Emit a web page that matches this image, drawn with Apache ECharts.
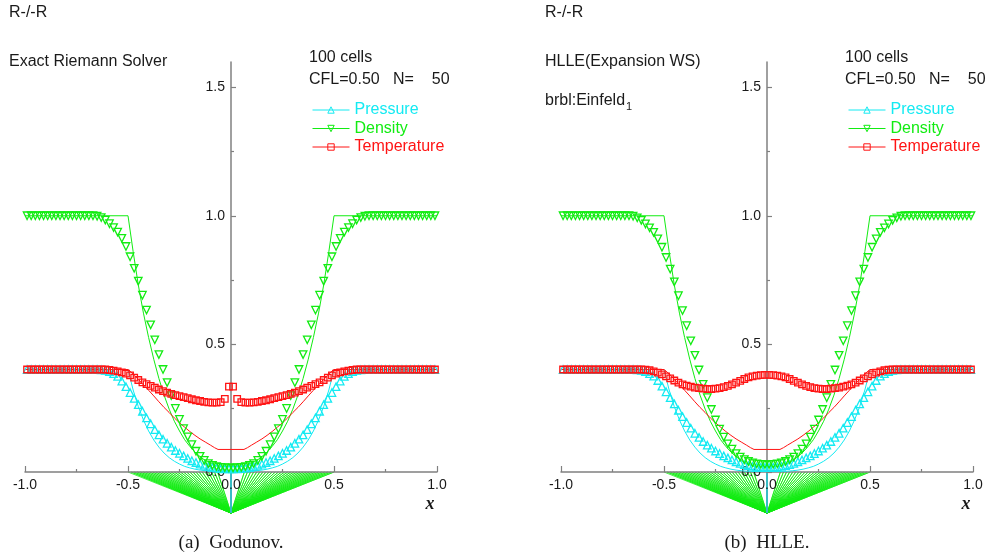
<!DOCTYPE html>
<html>
<head>
<meta charset="utf-8">
<title>R-/-R</title>
<script src="https://cdn.jsdelivr.net/npm/echarts@6/dist/echarts.min.js"></script>
<style>
html, body { margin: 0; padding: 0; background: #fff; }
#main { width: 989px; height: 556px; }
</style>
</head>
<body>
<div id="main"></div>
<script>
// cell centres, 100 cells on [-1, 1]
var cellX = [
  -0.99,-0.97,-0.95,-0.93,-0.91,-0.89,-0.87,-0.85,-0.83,-0.81,
  -0.79,-0.77,-0.75,-0.73,-0.71,-0.69,-0.67,-0.65,-0.63,-0.61,
  -0.59,-0.57,-0.55,-0.53,-0.51,-0.49,-0.47,-0.45,-0.43,-0.41,
  -0.39,-0.37,-0.35,-0.33,-0.31,-0.29,-0.27,-0.25,-0.23,-0.21,
  -0.19,-0.17,-0.15,-0.13,-0.11,-0.09,-0.07,-0.05,-0.03,-0.01,
  0.01,0.03,0.05,0.07,0.09,0.11,0.13,0.15,0.17,0.19,
  0.21,0.23,0.25,0.27,0.29,0.31,0.33,0.35,0.37,0.39,
  0.41,0.43,0.45,0.47,0.49,0.51,0.53,0.55,0.57,0.59,
  0.61,0.63,0.65,0.67,0.69,0.71,0.73,0.75,0.77,0.79,
  0.81,0.83,0.85,0.87,0.89,0.91,0.93,0.95,0.97,0.99
];

// (a) Godunov
var godDensity = [
  1,1,1,1,1,1,1,1,1,1,
  1,1,1,1,1,1,1,0.998,0.993,0.983,
  0.969,0.954,0.936,0.912,0.88,0.84,0.795,0.745,0.69,0.632,
  0.574,0.516,0.458,0.40,0.349,0.298,0.248,0.205,0.169,0.137,
  0.107,0.081,0.061,0.045,0.033,0.026,0.021,0.018,0.017,0.016,
  0.016,0.017,0.018,0.021,0.026,0.033,0.045,0.061,0.081,0.107,
  0.137,0.169,0.205,0.248,0.298,0.349,0.40,0.458,0.516,0.574,
  0.632,0.69,0.745,0.795,0.84,0.88,0.912,0.936,0.954,0.969,
  0.983,0.993,0.998,1,1,1,1,1,1,1,
  1,1,1,1,1,1,1,1,1,1
];
var godPressure = [
  0.4,0.4,0.4,0.4,0.4,0.4,0.4,0.4,0.4,0.4,
  0.4,0.4,0.4,0.4,0.4,0.4,0.4,0.4,0.399,0.397,
  0.392,0.384,0.373,0.355,0.333,0.31,0.287,0.263,0.237,0.211,
  0.188,0.165,0.145,0.128,0.112,0.097,0.084,0.073,0.063,0.053,
  0.044,0.037,0.031,0.026,0.021,0.018,0.015,0.013,0.012,0.012,
  0.012,0.012,0.013,0.015,0.018,0.021,0.026,0.031,0.037,0.044,
  0.053,0.063,0.073,0.084,0.097,0.112,0.128,0.145,0.165,0.188,
  0.211,0.237,0.263,0.287,0.31,0.333,0.355,0.373,0.384,0.392,
  0.397,0.399,0.4,0.4,0.4,0.4,0.4,0.4,0.4,0.4,
  0.4,0.4,0.4,0.4,0.4,0.4,0.4,0.4,0.4,0.4
];
var godTemperature = [
  0.4,0.4,0.4,0.4,0.4,0.4,0.4,0.4,0.4,0.4,
  0.4,0.4,0.4,0.4,0.4,0.4,0.4,0.4,0.4,0.4,
  0.398,0.396,0.393,0.389,0.384,0.377,0.368,0.359,0.35,0.343,
  0.336,0.329,0.322,0.316,0.31,0.305,0.3,0.296,0.292,0.288,
  0.284,0.28,0.277,0.274,0.272,0.271,0.271,0.273,0.285,0.333,
  0.333,0.285,0.273,0.271,0.271,0.272,0.274,0.277,0.28,0.284,
  0.288,0.292,0.296,0.3,0.305,0.31,0.316,0.322,0.329,0.336,
  0.343,0.35,0.359,0.368,0.377,0.384,0.389,0.393,0.396,0.398,
  0.4,0.4,0.4,0.4,0.4,0.4,0.4,0.4,0.4,0.4,
  0.4,0.4,0.4,0.4,0.4,0.4,0.4,0.4,0.4,0.4
];

// (b) HLLE
var hlleDensity = [
  1,1,1,1,1,1,1,1,1,1,
  1,1,1,1,1,1,1,0.998,0.992,0.982,
  0.968,0.953,0.935,0.91,0.877,0.837,0.792,0.742,0.688,0.63,
  0.571,0.512,0.455,0.398,0.342,0.29,0.244,0.203,0.167,0.136,
  0.11,0.089,0.072,0.058,0.048,0.041,0.036,0.032,0.03,0.029,
  0.029,0.03,0.032,0.036,0.041,0.048,0.058,0.072,0.089,0.11,
  0.136,0.167,0.203,0.244,0.29,0.342,0.398,0.455,0.512,0.571,
  0.63,0.688,0.742,0.792,0.837,0.877,0.91,0.935,0.953,0.968,
  0.982,0.992,0.998,1,1,1,1,1,1,1,
  1,1,1,1,1,1,1,1,1,1
];
var hllePressure = [
  0.4,0.4,0.4,0.4,0.4,0.4,0.4,0.4,0.4,0.4,
  0.4,0.4,0.4,0.4,0.4,0.4,0.4,0.4,0.399,0.397,
  0.392,0.384,0.374,0.357,0.335,0.313,0.29,0.266,0.241,0.216,
  0.193,0.171,0.151,0.135,0.119,0.105,0.093,0.082,0.072,0.063,
  0.055,0.047,0.04,0.034,0.029,0.025,0.022,0.02,0.019,0.018,
  0.018,0.019,0.02,0.022,0.025,0.029,0.034,0.04,0.047,0.055,
  0.063,0.072,0.082,0.093,0.105,0.119,0.135,0.151,0.171,0.193,
  0.216,0.241,0.266,0.29,0.313,0.335,0.357,0.374,0.384,0.392,
  0.397,0.399,0.4,0.4,0.4,0.4,0.4,0.4,0.4,0.4,
  0.4,0.4,0.4,0.4,0.4,0.4,0.4,0.4,0.4,0.4
];
var hlleTemperature = [
  0.4,0.4,0.4,0.4,0.4,0.4,0.4,0.4,0.4,0.4,
  0.4,0.4,0.4,0.4,0.4,0.4,0.4,0.4,0.4,0.4,
  0.399,0.397,0.393,0.388,0.381,0.373,0.365,0.357,0.349,0.342,
  0.337,0.333,0.329,0.327,0.325,0.324,0.324,0.325,0.327,0.331,
  0.336,0.342,0.349,0.356,0.363,0.369,0.373,0.376,0.378,0.379,
  0.379,0.378,0.376,0.373,0.369,0.363,0.356,0.349,0.342,0.336,
  0.331,0.327,0.325,0.324,0.324,0.325,0.327,0.329,0.333,0.337,
  0.342,0.349,0.357,0.365,0.373,0.381,0.388,0.393,0.397,0.399,
  0.4,0.4,0.4,0.4,0.4,0.4,0.4,0.4,0.4,0.4,
  0.4,0.4,0.4,0.4,0.4,0.4,0.4,0.4,0.4,0.4
];

// exact solution (solid lines), same in both panels
var exactX = [-1.0,-0.5,-0.475,-0.45,-0.425,-0.4,-0.375,-0.35,-0.325,-0.3,-0.275,-0.25,-0.225,-0.2,-0.175,-0.15,-0.125,-0.1,-0.08,-0.063,
  0.063,0.08,0.1,0.125,0.15,0.175,0.2,0.225,0.25,0.275,0.3,0.325,0.35,0.375,0.4,0.425,0.45,0.475,0.5,1.0];
var exactDensity = [1.0,1.0,0.86,0.73,0.62,0.525,0.44,0.365,0.30,0.245,0.198,0.16,0.126,0.10,0.078,0.06,0.045,0.034,0.027,0.022,
  0.022,0.027,0.034,0.045,0.06,0.078,0.10,0.126,0.16,0.198,0.245,0.30,0.365,0.44,0.525,0.62,0.73,0.86,1.0,1.0];
var exactPressure = [0.4,0.4,0.32,0.255,0.203,0.16,0.125,0.097,0.074,0.056,0.042,0.031,0.022,0.016,0.011,0.0075,0.005,0.0032,0.0024,0.002,
  0.002,0.0024,0.0032,0.005,0.0075,0.011,0.016,0.022,0.031,0.042,0.056,0.074,0.097,0.125,0.16,0.203,0.255,0.32,0.4,0.4];
var exactTemperature = [0.4,0.4,0.383,0.362,0.34,0.319,0.297,0.274,0.252,0.232,0.211,0.192,0.175,0.158,0.143,0.129,0.117,0.105,0.095,0.088,
  0.088,0.095,0.105,0.117,0.129,0.143,0.158,0.175,0.192,0.211,0.232,0.252,0.274,0.297,0.319,0.34,0.362,0.383,0.4,0.4];

// x-t wave fan drawn under the axis
var fanX = [-0.5,-0.485,-0.47,-0.455,-0.44,-0.425,-0.41,-0.395,-0.38,-0.365,-0.35,-0.335,-0.32,-0.305,-0.29,
  -0.275,-0.26,-0.245,-0.23,-0.215,-0.2,-0.185,-0.17,-0.155,-0.14,-0.125,-0.11,-0.095,-0.08,-0.065,
  0.065,0.08,0.095,0.11,0.125,0.14,0.155,0.17,0.185,0.2,0.215,0.23,0.245,0.26,0.275,
  0.29,0.305,0.32,0.335,0.35,0.365,0.38,0.395,0.41,0.425,0.44,0.455,0.47,0.485,0.5];
var fanTime = -0.16;

var yTicks = [0, 0.5, 1.0, 1.5];
var yMinorTicks = [0.25, 0.75, 1.25];

var CYAN = '#14eaf2', GREEN = '#12ec12', RED = '#ff1414', CONTACT = '#38bcc4';
var AXIS = '#808080', TEXT = '#1a1a1a';
var FONT = 'Liberation Sans, Arial, sans-serif';
var SERIF = 'Liberation Serif, Times New Roman, serif';

var plotW = 412, plotTop = 62, plotH = 410, fanH = 41;

var panels = [
  {left: 25, title: 'Exact Riemann Solver', note: null, caption: '(a)  Godunov.',
   pressure: godPressure, density: godDensity, temperature: godTemperature},
  {left: 561, title: 'HLLE(Expansion WS)', note: 'brbl:Einfeld', caption: '(b)  HLLE.',
   pressure: hllePressure, density: hlleDensity, temperature: hlleTemperature}
];

function pairs(xs, ys) {
  return xs.map(function (x, i) { return [x, ys[i]]; });
}

function fanData() {
  var d = [];
  fanX.forEach(function (x) {
    d.push([x, 0]);
    d.push([0, fanTime]);
  });
  return d;
}

function textEl(x, y, text, font, align, color) {
  return {
    type: 'text', x: x, y: y, silent: true,
    style: {text: text, font: font, fill: color || TEXT, align: align || 'left', verticalAlign: 'middle'}
  };
}

var grid = [], xAxis = [], yAxis = [], series = [], legend = [], graphic = [];

panels.forEach(function (p, k) {
  var g = 2 * k, ya = 3 * k;
  var x0 = p.left + plotW / 2;

  grid.push({left: p.left, top: plotTop, width: plotW, height: plotH});
  grid.push({left: p.left, top: plotTop + plotH, width: plotW, height: fanH});

  xAxis.push({
    gridIndex: g, type: 'value', min: -1, max: 1, interval: 0.5,
    axisLine: {onZero: false, lineStyle: {color: AXIS, width: 1.5}},
    axisTick: {inside: true, length: 6, lineStyle: {color: AXIS, width: 1.2}},
    minorTick: {show: true, splitNumber: 2, length: 3, lineStyle: {color: AXIS, width: 1.2}},
    axisLabel: {fontSize: 14, fontFamily: FONT, color: TEXT, margin: 6,
      formatter: function (v) { return v.toFixed(1); }},
    splitLine: {show: false}
  });
  xAxis.push({gridIndex: g + 1, type: 'value', min: -1, max: 1, show: false});

  yAxis.push({
    gridIndex: g, type: 'value', min: 0, max: 1.6, interval: 0.5,
    position: 'left', offset: -(x0 - p.left),
    axisLine: {show: true, onZero: false, lineStyle: {color: AXIS, width: 1.5}},
    axisTick: {inside: true, length: 5, customValues: yTicks, lineStyle: {color: AXIS, width: 1.2}},
    axisLabel: {customValues: yTicks, fontSize: 14, fontFamily: FONT, color: TEXT, margin: 6,
      formatter: function (v) { return v.toFixed(1); }},
    splitLine: {show: false}
  });
  yAxis.push({
    gridIndex: g, type: 'value', min: 0, max: 1.6,
    position: 'left', offset: -(x0 - p.left),
    axisLine: {show: false, onZero: false},
    axisTick: {inside: true, length: 3, customValues: yMinorTicks, lineStyle: {color: AXIS, width: 1.2}},
    axisLabel: {show: false},
    splitLine: {show: false}
  });
  yAxis.push({gridIndex: g + 1, type: 'value', min: fanTime, max: 0, show: false});

  // exact solution
  [[exactPressure, CYAN], [exactDensity, GREEN], [exactTemperature, RED]].forEach(function (s) {
    series.push({
      type: 'line', name: 'exact', xAxisIndex: g, yAxisIndex: ya,
      data: pairs(exactX, s[0]), symbol: 'none', color: s[1],
      lineStyle: {color: s[1], width: 1}, z: 2, silent: true
    });
  });

  // numerical solution
  var marks = [
    {name: 'Pressure', data: p.pressure, color: CYAN, symbol: 'triangle', size: 7.5, rotate: 0},
    {name: 'Density', data: p.density, color: GREEN, symbol: 'triangle', size: 7.5, rotate: 180},
    {name: 'Temperature', data: p.temperature, color: RED, symbol: 'rect', size: 6.5, rotate: 0}
  ];
  marks.forEach(function (m) {
    series.push({
      type: 'line', name: m.name, xAxisIndex: g, yAxisIndex: ya,
      data: pairs(cellX, m.data), color: m.color,
      symbol: m.symbol, symbolSize: m.size, symbolRotate: m.rotate, showSymbol: true,
      itemStyle: {color: 'rgba(255,255,255,0)', borderColor: m.color, borderWidth: 1.3},
      lineStyle: {color: m.color, width: 1, opacity: 0},
      clip: false, z: 3, silent: true
    });
  });

  // wave fan and contact
  series.push({
    type: 'line', name: 'fan', xAxisIndex: g + 1, yAxisIndex: ya + 2,
    data: fanData(), symbol: 'none', lineStyle: {color: GREEN, width: 0.8}, z: -1, silent: true
  });
  series.push({
    type: 'line', name: 'contact', xAxisIndex: g + 1, yAxisIndex: ya + 2,
    data: [[0, 0], [0, fanTime]], symbol: 'none', lineStyle: {color: CONTACT, width: 2}, z: -1, silent: true
  });

  legend.push({
    data: [
      {name: 'Pressure', textStyle: {color: CYAN}},
      {name: 'Density', textStyle: {color: GREEN}},
      {name: 'Temperature', textStyle: {color: RED}}
    ],
    orient: 'vertical', left: x0 + 81, top: 102, padding: 0,
    itemWidth: 37, itemHeight: 8, itemGap: 2.5, selectedMode: false,
    lineStyle: {opacity: 1, width: 1},
    itemStyle: {borderWidth: 1},
    textStyle: {fontSize: 16, fontFamily: FONT}
  });

  graphic.push(textEl(p.left - 16, 13, 'R-/-R', '16px ' + FONT));
  graphic.push(textEl(p.left - 16, 62, p.title, '16px ' + FONT));
  if (p.note) {
    graphic.push(textEl(p.left - 16, 101, p.note, '16px ' + FONT));
    graphic.push(textEl(p.left - 16 + 81, 107, '1', '11px ' + FONT));
  }
  graphic.push(textEl(x0 + 78, 58, '100 cells', '16px ' + FONT));
  graphic.push(textEl(x0 + 78, 80, 'CFL=0.50   N=    50', '16px ' + FONT));
  graphic.push(textEl(p.left + plotW - 7, 504, 'x', 'italic bold 18px ' + SERIF, 'center'));
  graphic.push(textEl(x0, 543, p.caption, '19px ' + SERIF, 'center'));
});

var chart = echarts.init(document.getElementById('main'), null, {renderer: 'canvas'});
chart.setOption({
  animation: false,
  backgroundColor: '#fff',
  grid: grid,
  xAxis: xAxis,
  yAxis: yAxis,
  legend: legend,
  series: series,
  graphic: graphic
});
</script>
</body>
</html>
